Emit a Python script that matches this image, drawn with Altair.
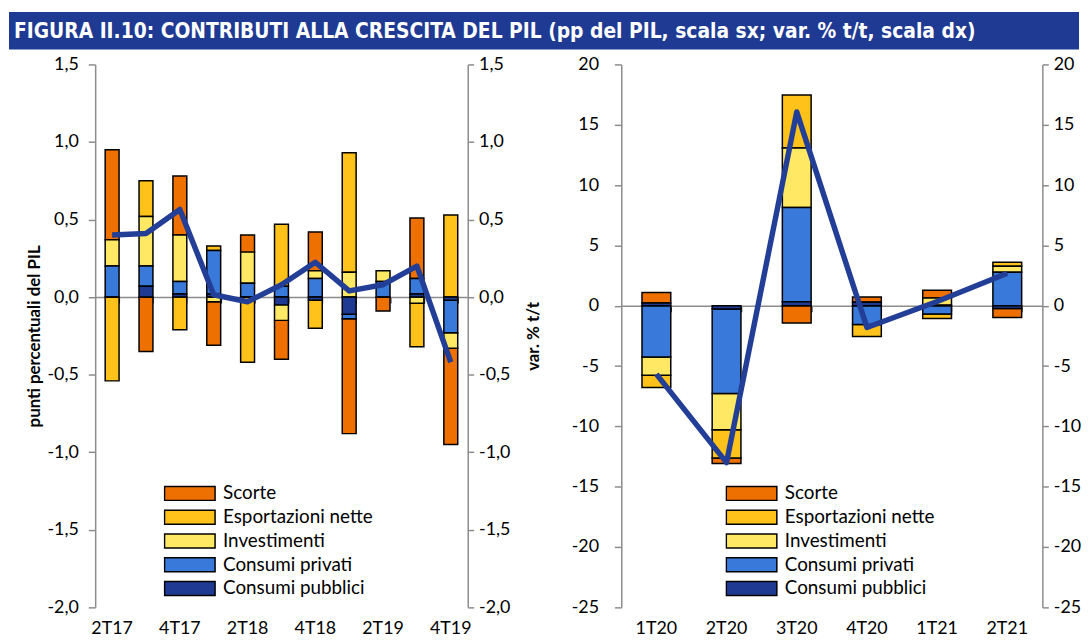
import altair as alt
import pandas as pd

TITLE = "FIGURA II.10: CONTRIBUTI ALLA CRESCITA DEL PIL (pp del PIL, scala sx; var. % t/t, scala dx)"

SERIES = ["Scorte", "Esportazioni nette", "Investimenti", "Consumi privati", "Consumi pubblici"]
COLORS = ["#EE7100", "#FFC21A", "#FFE863", "#3879D9", "#1F3A93"]
STACK_RANK = [4, 3, 2, 1, 0]  # 0 = closest to zero

# ---- left panel (pp of GDP, 2T17-4T19)
Q_LEFT = ["2T17", "3T17", "4T17", "1T18", "2T18", "3T18", "4T18", "1T19", "2T19", "3T19", "4T19"]
Q_LEFT_SHOWN = ["2T17", "4T17", "2T18", "4T18", "2T19", "4T19"]
SCORTE_L = [0.58, -0.35, 0.38, -0.28, 0.11, -0.25, 0.25, -0.74, -0.09, 0.39, -0.62]
ESPORT_L = [-0.54, 0.23, -0.21, 0.03, -0.42, 0.40, -0.18, 0.77, 0.00, -0.28, 0.53]
INVEST_L = [0.17, 0.32, 0.30, -0.03, 0.20, -0.10, 0.05, 0.16, 0.07, -0.04, -0.10]
PRIVATI_L = [0.20, 0.13, 0.08, 0.28, 0.09, 0.07, 0.12, -0.03, 0.10, 0.10, -0.21]
PUBBLICI_L = [0.00, 0.07, 0.02, 0.02, 0.00, -0.05, -0.02, -0.11, 0.00, 0.02, -0.02]
PIL_L = [0.40, 0.41, 0.565, 0.015, -0.03, 0.08, 0.225, 0.04, 0.08, 0.20, -0.42]
YDOM_L = [-2.0, 1.5]
YTICKS_L = [-2.0, -1.5, -1.0, -0.5, 0.0, 0.5, 1.0, 1.5]

# ---- right panel (1T20-2T21)
Q_RIGHT = ["1T20", "2T20", "3T20", "4T20", "1T21", "2T21"]
SCORTE_R = [0.88, -0.45, -1.44, 0.45, 0.64, -0.75]
ESPORT_R = [-1.02, -2.35, 4.40, -1.00, -0.37, 0.33]
INVEST_R = [-1.52, -3.01, 4.93, 0.00, 0.60, 0.50]
PRIVATI_R = [-4.24, -7.00, 7.81, -1.55, -0.69, 2.77]
PUBBLICI_R = [0.22, -0.27, 0.33, 0.28, 0.05, -0.22]
PIL_R = [-5.67, -13.0, 16.06, -1.80, 0.35, 2.69]
YDOM_R = [-25, 20]
YTICKS_R = [-25, -20, -15, -10, -5, 0, 5, 10, 15, 20]

FONT = "Lato"
TITLE_FONT = "Liberation Sans Narrow, DejaVu Sans Condensed, sans-serif"
GRAY = "#8C8C8C"
LINE_COLOR = "#233E96"
BANNER_COLOR = "#1F3A93"
PLOT_H = 548
LABEL_FS = 18
SYMBOL = "M-1,-0.275H1V0.275H-1Z"

FMT_DEC = "(datum.value < 0 ? '-' : '') + replace(format(abs(datum.value), '.1f'), '.', ',')"
FMT_INT = "(datum.value < 0 ? '-' : '') + format(abs(datum.value), 'd')"


def panel(quarters, shown, comps, pil, ydom, yticks, lexpr, width,
          title_l, title_r, pad_l, legend_x):
    rows = []
    for name, rank, vals in zip(SERIES, STACK_RANK, comps):
        for q, v in zip(quarters, vals):
            rows.append({"q": q, "serie": name, "v": v, "rank": rank})
    bars_df = pd.DataFrame(rows)
    line_df = pd.DataFrame({"q": quarters, "pil": pil})
    xscale = alt.Scale(paddingInner=0.59, paddingOuter=0.295)
    zero_offset = -PLOT_H * (0 - ydom[0]) / (ydom[1] - ydom[0])

    yaxis_l = dict(orient="left", values=yticks, labelExpr=lexpr, grid=False,
                   domainColor=GRAY, domainWidth=1.5, tickColor=GRAY, tickWidth=1.5,
                   tickSize=7, labelPadding=pad_l, labelFont=FONT, labelFontSize=LABEL_FS,
                   labelColor="black", title=title_l, titleFont=FONT, titleFontSize=17,
                   titleFontWeight="bold", titleColor="black", titlePadding=4)
    yaxis_r = dict(orient="right", values=yticks, labelExpr=lexpr, grid=False,
                   domainColor=GRAY, domainWidth=1.5, tickColor=GRAY, tickWidth=1.5,
                   tickSize=6, labelPadding=5, labelFont=FONT, labelFontSize=LABEL_FS,
                   labelColor="black", title=title_r, titleFont=FONT, titleFontSize=17,
                   titleFontWeight="bold", titleColor="black", titlePadding=16,
                   titleAngle=270, titleBaseline="top")

    bars = alt.Chart(bars_df).mark_bar(stroke="black", strokeWidth=1.5).encode(
        x=alt.X("q:N", sort=quarters, scale=xscale,
                axis=alt.Axis(orient="bottom", values=shown, labelAngle=0, ticks=False,
                              domain=False, labelPadding=12, labelFont=FONT,
                              labelFontSize=LABEL_FS, labelColor="black", title=None,
                              grid=False)),
        y=alt.Y("v:Q", stack="zero", scale=alt.Scale(domain=ydom, nice=False, zero=False),
                axis=alt.Axis(**yaxis_l)),
        color=alt.Color("serie:N", scale=alt.Scale(domain=SERIES, range=COLORS),
                        legend=alt.Legend(title=None, orient="none", legendX=legend_x,
                                          legendY=423, symbolType=SYMBOL, symbolSize=2601,
                                          symbolStrokeColor="black", symbolStrokeWidth=1.5,
                                          clipHeight=20, labelFont=FONT, labelFontSize=19,
                                          labelColor="black", labelOffset=7, rowPadding=4,
                                          direction="vertical")),
        order=alt.Order("rank:Q", sort="ascending"),
    )
    line = alt.Chart(line_df).mark_line(color=LINE_COLOR, strokeWidth=5.5, strokeJoin="round").encode(
        x=alt.X("q:N", sort=quarters, scale=xscale,
                axis=alt.Axis(orient="bottom", offset=zero_offset, labels=False, domain=True,
                              domainColor=GRAY, domainWidth=1.5, ticks=True, tickBand="extent",
                              tickSize=6, tickColor="#333333", tickWidth=1.2, title=None,
                              grid=False)),
        y=alt.Y("pil:Q", scale=alt.Scale(domain=ydom, nice=False, zero=False),
                axis=alt.Axis(**yaxis_r)),
    )
    return (alt.layer(bars, line)
            .resolve_scale(y="independent")
            .resolve_axis(x="independent")
            .properties(width=width, height=PLOT_H))


left = panel(Q_LEFT, Q_LEFT_SHOWN,
             [SCORTE_L, ESPORT_L, INVEST_L, PRIVATI_L, PUBBLICI_L], PIL_L,
             YDOM_L, YTICKS_L, FMT_DEC, 376,
             "punti percentuali del PIL", "var. % t/t", 10, 69)
right = panel(Q_RIGHT, Q_RIGHT,
              [SCORTE_R, ESPORT_R, INVEST_R, PRIVATI_R, PUBBLICI_R], PIL_R,
              YDOM_R, YTICKS_R, FMT_INT, 425,
              None, None, 16, 105)

spacer = alt.Chart(alt.Data(values=[{"a": 0}])).mark_point(opacity=0, size=1).encode(
    x=alt.value(0), y=alt.value(0)).properties(width=14, height=10)

panels = alt.hconcat(left, right, spacing=27).resolve_scale(color="independent")
row = alt.hconcat(spacer, panels, spacing=0).resolve_scale(color="independent")

banner_df = alt.Data(values=[{"t": TITLE}])
BW, BH = 1080, 38
banner_rect = alt.Chart(banner_df).mark_rect(color=BANNER_COLOR).encode(
    x=alt.value(0), x2=alt.value(BW), y=alt.value(0), y2=alt.value(BH))
banner_text = alt.Chart(banner_df).mark_text(
    align="left", baseline="middle", color="white", font=TITLE_FONT,
    fontSize=21, fontWeight="bold").encode(
    x=alt.value(5), y=alt.value(BH / 2 + 1), text="t:N")
banner = alt.layer(banner_rect, banner_text).properties(width=BW, height=BH)

chart = (alt.vconcat(banner, row, spacing=4)
         .properties(padding=0, background="white")
         .configure_view(stroke="transparent"))

chart.save("out.html", embed_options={"renderer": "svg", "actions": False})
